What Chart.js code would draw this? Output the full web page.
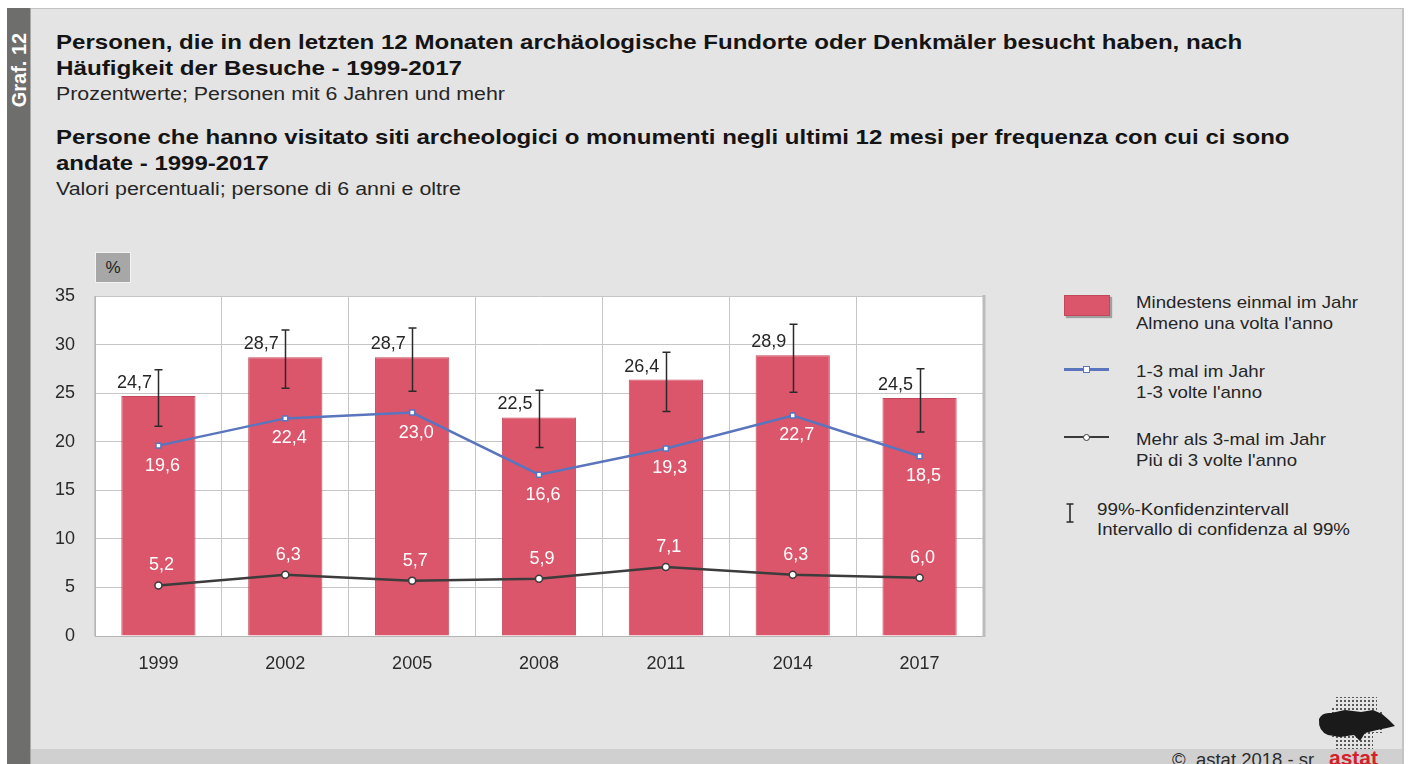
<!DOCTYPE html>
<html>
<head>
<meta charset="utf-8">
<script src="https://cdn.jsdelivr.net/npm/chart.js@4/dist/chart.umd.min.js"></script>
<style>
  body { margin: 0; width: 1408px; height: 764px; background: #fff; overflow: hidden; position: relative;
         font-family: "Liberation Sans", Arial, sans-serif; color: #1e1e1e; }
  .abs { position: absolute; white-space: nowrap; transform-origin: 0 50%; }
  .t { font-weight: bold; font-size: 21px; line-height: 26px; color: #141414; }
  .s { font-size: 17.5px; line-height: 22px; color: #262626; }
  .lg { font-size: 17px; line-height: 21px; color: #262626; }
  #panel { position: absolute; left: 7px; top: 8px; width: 1395px; height: 756px; background: #e4e4e4;
           border-top: 1px solid #c2c2c2; border-right: 2px solid #c4c4c4; }
  #strip { position: absolute; left: 7px; top: 8px; width: 23px; height: 757px; background: #6e6e6c;
           border-right: 1px solid #a9a9a9; }
  #band { position: absolute; left: 31px; top: 749px; width: 1371px; height: 15px; background: #d0d0d0; }
  #chart { position: absolute; left: 0; top: 0; }
</style>
</head>
<body>
<div id="panel"></div>
<div id="strip"></div>
<div class="abs" style="left:7px;top:58px;width:23px;height:24px;transform:rotate(-90deg);transform-origin:50% 50%;
     color:#fff;font-weight:bold;font-size:20px;line-height:24px;text-align:center;overflow:visible;">
  <span style="display:inline-block;margin-left:-40px;width:103px;text-align:center">Graf. 12</span></div>
<div id="band"></div>

<div class="abs t" data-w="1186" style="left:56px;top:29px">Personen, die in den letzten 12 Monaten archäologische Fundorte oder Denkmäler besucht haben, nach</div>
<div class="abs t" data-w="406" style="left:56px;top:55px">Häufigkeit der Besuche - 1999-2017</div>
<div class="abs s" data-w="449" style="left:56px;top:83px">Prozentwerte; Personen mit 6 Jahren und mehr</div>
<div class="abs t" data-w="1234" style="left:56px;top:124px">Persone che hanno visitato siti archeologici o monumenti negli ultimi 12 mesi per frequenza con cui ci sono</div>
<div class="abs t" data-w="213" style="left:56px;top:150px">andate - 1999-2017</div>
<div class="abs s" data-w="405" style="left:56px;top:178px">Valori percentuali; persone di 6 anni e oltre</div>

<div class="abs" style="left:95px;top:252px;width:34px;height:29px;background:#a7a7a7;border:1px solid #f2f2f2;
     font-size:17px;line-height:29px;text-align:center;color:#222">%</div>

<!-- legend -->
<div class="abs" style="left:1064px;top:295px;width:44px;height:19px;background:#db566b;border:1px solid #c0485b;box-shadow:2px 2px 1px #a0a0a0"></div>
<div class="abs lg" data-w="222" style="left:1136px;top:292px">Mindestens einmal im Jahr</div>
<div class="abs lg" data-w="197" style="left:1136px;top:313px">Almeno una volta l'anno</div>

<div class="abs" style="left:1064px;top:368px;width:45px;height:2.5px;background:#5a74bd"></div>
<div class="abs" style="left:1083px;top:366px;width:5px;height:5px;background:#fff;border:1px solid #5a74bd"></div>
<div class="abs lg" data-w="129" style="left:1136px;top:361px">1-3 mal im Jahr</div>
<div class="abs lg" data-w="126" style="left:1136px;top:382px">1-3 volte l'anno</div>

<div class="abs" style="left:1064px;top:436px;width:45px;height:2px;background:#3a3a3a"></div>
<div class="abs" style="left:1083px;top:434px;width:5px;height:5px;background:#fff;border:1px solid #3a3a3a;border-radius:50%"></div>
<div class="abs lg" data-w="190" style="left:1136px;top:429px">Mehr als 3-mal im Jahr</div>
<div class="abs lg" data-w="161" style="left:1136px;top:450px">Più di 3 volte l'anno</div>

<svg class="abs" style="left:1064px;top:502px" width="12" height="22">
  <path d="M6 2 V20 M2.5 2 H9.5 M2.5 20 H9.5" stroke="#2a2a2a" stroke-width="1.6" fill="none"/>
</svg>
<div class="abs lg" data-w="192" style="left:1097px;top:499px">99%-Konfidenzintervall</div>
<div class="abs lg" data-w="253" style="left:1097px;top:519px">Intervallo di confidenza al 99%</div>

<!-- footer -->
<div class="abs" style="left:1172px;top:750px;font-size:18.5px;line-height:20px;color:#2a2a2a">©&nbsp; astat 2018 - sr</div>
<div class="abs" style="left:1329px;top:747px;font-size:21px;line-height:22px;font-weight:bold;color:#d42029">astat</div>
<svg class="abs" style="left:1315px;top:695px" width="86" height="58">
  <defs><pattern id="dots" width="4" height="4" patternUnits="userSpaceOnUse"><circle cx="2" cy="2" r="1" fill="#2a2a2a"/></pattern></defs>
  <path d="M20 2 H62 V16 H68 V38 H58 V54 H20 V42 H16 V12 H20 Z" fill="url(#dots)"/>
  <path d="M4 24 Q7 17 16 18 L30 15 L46 17 L58 15 L67 19 L74 25 L80 31 L72 33 L62 35 L50 38 L45 46 L39 40 L25 42 L13 40 Q3 36 4 24 Z" fill="#1a1a1a"/>
</svg>

<canvas id="chart" width="1408" height="764"></canvas>

<script>
const years = ['1999', '2002', '2005', '2008', '2011', '2014', '2017'];
// Mindestens einmal im Jahr / Almeno una volta l'anno
const atLeastOnce = [24.7, 28.7, 28.7, 22.5, 26.4, 28.9, 24.5];
// 1-3 mal im Jahr / 1-3 volte l'anno
const oneToThree = [19.6, 22.4, 23.0, 16.6, 19.3, 22.7, 18.5];
// Mehr als 3-mal im Jahr / Più di 3 volte l'anno
const moreThanThree = [5.2, 6.3, 5.7, 5.9, 7.1, 6.3, 6.0];
// 99%-Konfidenzintervall
const ciLow = [21.6, 25.5, 25.2, 19.4, 23.1, 25.1, 21.0];
const ciHigh = [27.4, 31.5, 31.7, 25.3, 29.2, 32.1, 27.5];

const fmt = v => v.toFixed(1).replace('.', ',');
const tickFont = { family: '"Liberation Sans", Arial, sans-serif', size: 18 };

const plotBg = {
    id: 'plotBg',
    beforeDraw(chart) {
        const a = chart.chartArea, ctx = chart.ctx;
        ctx.save();
        ctx.fillStyle = '#ffffff';
        ctx.fillRect(a.left, a.top, a.right - a.left, a.bottom - a.top);
        ctx.restore();
    }
};

const extras = {
    id: 'extras',
    afterDatasetsDraw(chart) {
        const ctx = chart.ctx, x = chart.scales.x, y = chart.scales.y, a = chart.chartArea;
        ctx.save();
        // right frame edge
        ctx.strokeStyle = '#bcbcbc';
        ctx.lineWidth = 3;
        ctx.beginPath();
        ctx.moveTo(a.right + 1, a.top - 1);
        ctx.lineTo(a.right + 1, a.bottom + 1);
        ctx.stroke();

        // confidence intervals
        ctx.strokeStyle = '#2a2a2a';
        ctx.lineWidth = 1.5;
        years.forEach((yr, i) => {
            const px = Math.round(x.getPixelForValue(i)) + 0.5;
            const hi = y.getPixelForValue(ciHigh[i]), lo = y.getPixelForValue(ciLow[i]);
            ctx.beginPath();
            ctx.moveTo(px, hi); ctx.lineTo(px, lo);
            ctx.moveTo(px - 4, hi); ctx.lineTo(px + 4, hi);
            ctx.moveTo(px - 4, lo); ctx.lineTo(px + 4, lo);
            ctx.stroke();
        });

        // value labels
        ctx.font = '18px "Liberation Sans", Arial, sans-serif';
        ctx.textAlign = 'center';
        ctx.textBaseline = 'middle';
        years.forEach((yr, i) => {
            const px = x.getPixelForValue(i);
            ctx.fillStyle = '#262626';
            ctx.fillText(fmt(atLeastOnce[i]), px - 24, y.getPixelForValue(atLeastOnce[i]) - 13);
            ctx.fillStyle = '#ffffff';
            ctx.fillText(fmt(oneToThree[i]), px + 4, y.getPixelForValue(oneToThree[i]) + 20);
            ctx.fillText(fmt(moreThanThree[i]), px + 3, y.getPixelForValue(moreThanThree[i]) - 20);
        });
        ctx.restore();
    }
};

new Chart(document.getElementById('chart'), {
    type: 'bar',
    data: {
        labels: years,
        datasets: [{
            label: 'Mindestens einmal im Jahr',
            data: atLeastOnce,
            backgroundColor: '#db566b',
            borderColor: '#c4485c',
            borderWidth: 1,
            barPercentage: 0.585,
            categoryPercentage: 1,
            order: 3
        }, {
            type: 'line',
            label: '1-3 mal im Jahr',
            data: oneToThree,
            borderColor: '#5a74bd',
            borderWidth: 2.5,
            tension: 0,
            pointStyle: 'rect',
            pointRadius: 3.5,
            pointBackgroundColor: '#ffffff',
            pointBorderColor: '#5a74bd',
            pointBorderWidth: 1.5,
            order: 1
        }, {
            type: 'line',
            label: 'Mehr als 3-mal im Jahr',
            data: moreThanThree,
            borderColor: '#3c3c3c',
            borderWidth: 2.5,
            tension: 0,
            pointStyle: 'circle',
            pointRadius: 3.5,
            pointBackgroundColor: '#ffffff',
            pointBorderColor: '#3c3c3c',
            pointBorderWidth: 1.5,
            order: 2
        }]
    },
    options: {
        responsive: false,
        animation: false,
        layout: { padding: { left: 30, top: 296, right: 425, bottom: 0 } },
        plugins: { legend: { display: false }, tooltip: { enabled: false } },
        scales: {
            x: {
                grid: { color: '#c6c6c6', drawTicks: false, offset: true },
                border: { color: '#b4b4b4' },
                ticks: { font: tickFont, color: '#2a2a2a', padding: 17 },
                afterFit: s => { s.height = 128; }
            },
            y: {
                min: 0,
                max: 35,
                grid: { color: '#c6c6c6', drawTicks: false },
                border: { color: '#b4b4b4' },
                ticks: { stepSize: 5, font: tickFont, color: '#2a2a2a', padding: 20 },
                afterFit: s => { s.width = 65; }
            }
        }
    },
    plugins: [plotBg, extras]
});

// stretch text lines to the widths they take in the reference
document.querySelectorAll('[data-w]').forEach(el => {
    const w = el.getBoundingClientRect().width;
    el.style.transform = 'scaleX(' + (+el.dataset.w / w).toFixed(3) + ')';
});
</script>
</body>
</html>
